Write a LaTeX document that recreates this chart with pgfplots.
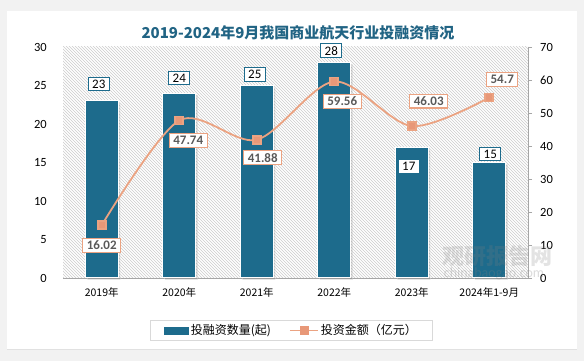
\documentclass[border=0pt]{standalone}
\usepackage{pgfplots}
\pgfplotsset{compat=1.18}
\usepackage{pgfplotstable}
\usepackage{fontspec}
\setmainfont{Carlito}
\newfontfamily\cjk{Noto Sans CJK SC}
\usetikzlibrary{patterns,shadows}
\definecolor{barc}{RGB}{29,107,140}
\definecolor{titc}{RGB}{33,100,132}
\definecolor{linec}{RGB}{235,163,130}
\definecolor{mkc}{RGB}{232,152,120}
\definecolor{lblc}{RGB}{89,89,89}

\pgfplotstableread{
x n lab dx dy
0 23 23 -3 17
1 24 24 0 15
2 25 25 -2 11
3 28 28 -3 11.5
4 17 17 -3 -19.5
5 15 15 1 8.5
}\bardata
\pgfplotstableread{
x v lab dx dy
0 16.02 16.02 0 -20
1 47.74 47.74 9 -20
2 41.88 41.88 6 -18
3 59.56 59.56 8 -20
4 46.03 46.03 17 25
5 54.7 54.7 13 18
}\linedata

\begin{document}
\begin{tikzpicture}[x=1pt,y=1pt]
\fill[gray!10] (0,0) rectangle (584,361);
\fill[white, drop shadow={shadow xshift=0pt, shadow yshift=-1.5pt, opacity=0.15}] (7,12) rectangle (577,350);
\node[font=\cjk\bfseries\fontsize{15}{18}\selectfont, text=titc] at (298,328) {2019-2024年9月我国商业航天行业投融资情况};

\begin{axis}[
  at={(63pt,83pt)}, anchor=south west, width=465pt, height=231pt, scale only axis,
  xmin=-0.5, xmax=5.5, ymin=0, ymax=30,
  axis background/.style={pattern=north west lines, pattern color=gray!40},
  axis x line*=bottom, axis y line*=left,
  x axis line style={draw=gray!70, line width=0.8pt, -},
  y axis line style={draw=none},
  xtick={0,...,5}, xticklabels={2019年,2020年,2021年,2022年,2023年,2024年1-9月},
  xticklabel style={font=\cjk\fontsize{10.5}{12}\selectfont, inner sep=0pt, yshift=-9.5pt},
  ytick={0,5,...,30},
  yticklabel style={font=\fontsize{12.5}{14}\selectfont, inner sep=0pt, xshift=-16pt},
  /pgf/number format/assume math mode=true,
  major tick length=0pt, tick style={draw=none},
  clip=false,
]
\addplot[ybar, bar width=33pt, fill=barc, draw=white, line width=1pt,
  drop shadow={shadow xshift=2pt, shadow yshift=-2pt, opacity=0.25},
  nodes near coords, point meta=explicit symbolic,
  visualization depends on={\thisrow{dx} \as \dx},
  visualization depends on={\thisrow{dy} \as \dy},
  every node near coord/.append style={anchor=center, xshift=\dx pt, yshift=\dy pt,
    draw=barc, fill=white, text=black, font=\fontsize{13}{15}\selectfont,
    inner xsep=4pt, inner ysep=2.5pt, line width=0.9pt}]
  table[x=x, y=n, meta=lab] \bardata;
\end{axis}

\begin{axis}[
  at={(63pt,83pt)}, anchor=south west, width=465pt, height=231pt, scale only axis,
  xmin=-0.5, xmax=5.5, ymin=0, ymax=70,
  axis x line=none, axis y line*=right,
  y axis line style={draw=gray!70, line width=0.8pt, -},
  ytick={0,10,...,70},
  tick align=outside, major tick length=4pt, ytick style={draw=gray!70, line width=0.8pt},
  yticklabel style={font=\fontsize{12.5}{14}\selectfont, inner sep=0pt, xshift=8pt},
  /pgf/number format/assume math mode=true,
  clip=false,
  legend style={at={(0.4914,-0.2273)}, anchor=center, draw=gray!30, line width=0.8pt,
    legend columns=2, font=\cjk\fontsize{12}{14}\selectfont,
    /tikz/every even column/.append style={column sep=16pt},
    inner xsep=14pt, inner ysep=2pt},
  legend cell align=left,
]
\addlegendimage{legend image code/.code={\fill[barc] (0pt,-3.5pt) rectangle (24pt,3.5pt);}}
\addlegendentry{投融资数量(起)}
\addlegendimage{legend image code/.code={\draw[linec, line width=1.8pt] (0pt,0pt) -- (28pt,0pt); \fill[mkc] (10pt,-4pt) rectangle (18pt,4pt);}}
\addlegendentry{投资金额（亿元）}
\addplot[smooth, color=linec, line width=1.8pt, mark=square*, mark size=4pt,
  mark options={fill=mkc, draw=none}, forget plot,
  nodes near coords, point meta=explicit symbolic,
  visualization depends on={\thisrow{dx} \as \dx},
  visualization depends on={\thisrow{dy} \as \dy},
  every node near coord/.append style={anchor=center, xshift=\dx pt, yshift=\dy pt,
    draw=linec, fill=white, text=lblc, font=\bfseries\fontsize{13}{15}\selectfont,
    inner xsep=4pt, inner ysep=2.5pt, line width=1.2pt}]
  table[x=x, y=v, meta=lab] \linedata;
\end{axis}
\node[font=\cjk\bfseries\fontsize{22}{24}\selectfont, text=gray, opacity=0.22] at (497,105) {观研报告网};
\node[font=\fontsize{14}{16}\selectfont, text=gray, opacity=0.28] at (494,87) {chinabaogao.com};
\pgfresetboundingbox
\path[use as bounding box] (0,0) rectangle (584,361);
\end{tikzpicture}
\end{document}
